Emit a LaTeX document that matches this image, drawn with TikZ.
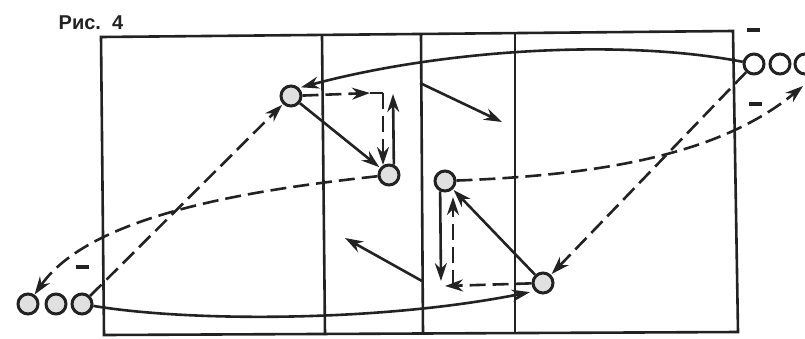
\documentclass[tikz,border=0pt]{standalone}
\usepackage{fontspec}
\setmainfont{Liberation Sans}
\usetikzlibrary{arrows.meta}
\definecolor{ink}{HTML}{222222}
\tikzset{
	player/.style={draw=ink, circle, fill=black!12, minimum size=20pt, inner sep=0pt, line width=3pt},
	run/.style={draw=ink, line width=2.6pt, -{Stealth[length=18pt,width=12pt]}},
	pass/.style={run, dash pattern=on 16pt off 7pt},
	plainpass/.style={draw=ink, line width=2.6pt, dash pattern=on 16pt off 7pt},
	court/.style={draw=ink, line width=2.6pt},
	minus/.style={fill=ink, inner sep=0pt, minimum width=13pt, minimum height=3.5pt}
}
\begin{document}
\begin{tikzpicture}[x=1pt,y=-1pt]
	\useasboundingbox (0,0) rectangle (805,338);

	% court
	\draw[court] (101,37) -- (733,31) -- (738,332) -- (104,335) -- cycle;
	\draw[court] (322,36) -- (325,335);
	\draw[court] (421,35) -- (423,334);
	\draw[court] (515,34) -- (515,334);

	\node[font=\bfseries\fontsize{20}{20}\selectfont, text=ink] (title) at (91,23) {Рис.\ \ 4};

	% players
	\node[player] (a) at (291,96) {};
	\node[player] (b) at (389,175) {};
	\node[player] (c) at (445,181) {};
	\node[player] (d) at (543,283) {};
	\node[player] (l1) at (28,304) {};
	\node[player] (l2) at (56,304) {};
	\node[player] (l3) at (82,304) {};
	\node[player, fill=white] (r1) at (754,64) {};
	\node[player, fill=white] (r2) at (780,64) {};
	\node[player, fill=white] (r3) at (805,64) {};

	\node[minus] (m1) at (753,30) {};
	\node[minus] (m2) at (755,104) {};
	\node[minus] (m3) at (82,267) {};

	% free ends
	\coordinate (k1) at (370,93);
	\coordinate (k2) at (383,93);
	\coordinate (k3) at (383,165);
	\coordinate (k4) at (393,94);
	\coordinate (k5) at (441,281);
	\coordinate (k6) at (445,286);
	\coordinate (k7) at (453,286);
	\coordinate (k8) at (453,197);
	\coordinate (k9) at (803,86);
	\coordinate (s1) at (420,83);
	\coordinate (s2) at (502,122);
	\coordinate (s3) at (422,281);
	\coordinate (s4) at (345,238);

	% long runs
	\draw[run, shorten >=2pt] (r1) .. controls (620,38) and (440,50) .. (a.north east);
	\draw[run, shorten >=5pt] (l3) .. controls (190,322) and (380,322) .. (d.south west);

	% long passes
	\draw[pass, shorten >=1pt] (l3) -- (a);
	\draw[pass, shorten >=1pt] (r1) -- (d);
	\draw[pass] (c) .. controls (600,175) and (720,155) .. (k9);
	\draw[pass] (b) .. controls (250,190) and (90,215) .. (l1);

	% first group
	\draw[run, shorten >=1pt] (a) -- (b);
	\draw[pass] (a) -- (k1);
	\draw[plainpass] (k1) -- (k2);
	\draw[pass] (k2) -- (k3);
	\draw[run] (b.65) -- (k4);

	% second group
	\draw[run, shorten >=1pt] (d) -- (c);
	\draw[run] (c.-115) -- (k5);
	\draw[pass] (d) -- (k6);
	\draw[pass] (k7) -- (k8);

	\draw[run] (s1) -- (s2);
	\draw[run] (s3) -- (s4);

\end{tikzpicture}
\end{document}
